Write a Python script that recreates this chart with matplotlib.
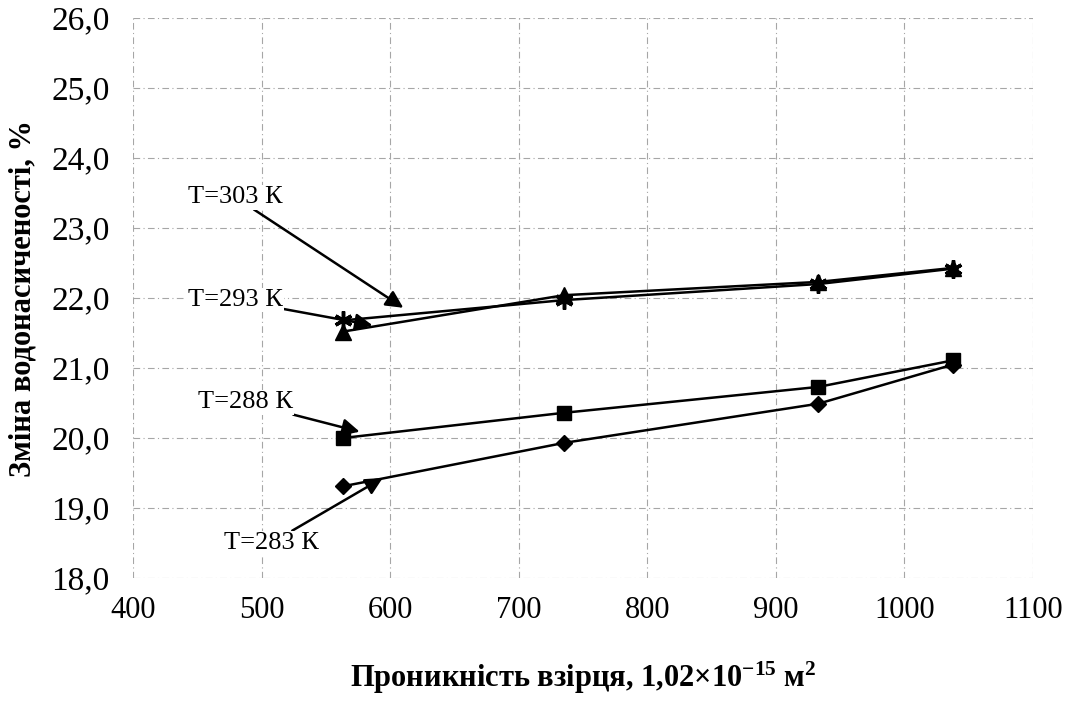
import numpy as np
import matplotlib
matplotlib.use('Agg')
import matplotlib.pyplot as plt

plt.rcParams['font.family'] = ['Liberation Serif', 'DejaVu Serif']
plt.rcParams['mathtext.fontset'] = 'custom'
plt.rcParams['mathtext.rm'] = 'Liberation Serif:bold'
plt.rcParams['mathtext.default'] = 'rm'

# проникність взірців
perm = [563, 735, 933, 1038]

# зміна водонасиченості для різних температур
t283 = [19.31, 19.93, 20.49, 21.05]
t288 = [20.00, 20.36, 20.73, 21.11]
t293 = [21.52, 22.04, 22.23, 22.43]
t303 = [21.68, 21.97, 22.20, 22.42]

labels = ['T=303 К', 'T=293 К', 'T=288 К', 'T=283 К']
label_pos = [(516, 23.44), (516, 21.97), (524, 20.51), (544, 18.50)]
arrow_tip = [(610, 21.86), (586, 21.61), (576, 20.09), (594, 19.43)]

xticks = np.arange(400, 1101, 100)
yticks = np.arange(18, 26.01, 1)

fig = plt.figure(figsize=(10.73, 7.06), dpi=100)
ax = fig.add_axes([0.1244, 0.1813, 0.8383, 0.7932])

ax.plot(perm, t283, color='k', lw=1.8, marker='D', ms=8, zorder=3)
ax.plot(perm, t288, color='k', lw=1.8, marker='s', ms=10, zorder=3)
ax.plot(perm, t293, color='k', lw=1.8, marker='^', ms=11, zorder=3)
ax.plot(perm, t303, color='k', lw=1.8, marker=(6, 2, 0), ms=13, mew=2.5, zorder=3)

for lab, pos, tip in zip(labels, label_pos, arrow_tip):
    ax.annotate(lab, xy=tip, xytext=pos, ha='right', va='center', fontsize=19,
                bbox=dict(boxstyle='square,pad=0.05', fc='white', ec='none'),
                arrowprops=dict(arrowstyle='-|>', color='k', lw=1.8,
                                mutation_scale=26, shrinkA=0, shrinkB=0),
                zorder=4)

ax.set_xlim(400, 1100)
ax.set_ylim(18, 26)
ax.set_xticks(xticks)
ax.set_yticks(yticks)
ax.set_yticklabels([f'{v:.1f}'.replace('.', ',') for v in yticks])
ax.tick_params(axis='x', labelsize=22, length=0, pad=13)
ax.tick_params(axis='y', labelsize=24, length=0, pad=17)
ax.grid(True, color='0.65', lw=0.8, ls=(0, (6, 3, 1, 3)))
ax.set_axisbelow(True)
for s in ax.spines.values():
    s.set_visible(False)

ax.set_xlabel('Проникність взірця, 1,02×10$^{-15}$ м$^{2}$', fontsize=22,
              fontweight='bold', labelpad=25)
ax.set_ylabel('Зміна водонасиченості, %', fontsize=22, fontweight='bold',
              labelpad=10)

fig.savefig('out.png', dpi=100)
